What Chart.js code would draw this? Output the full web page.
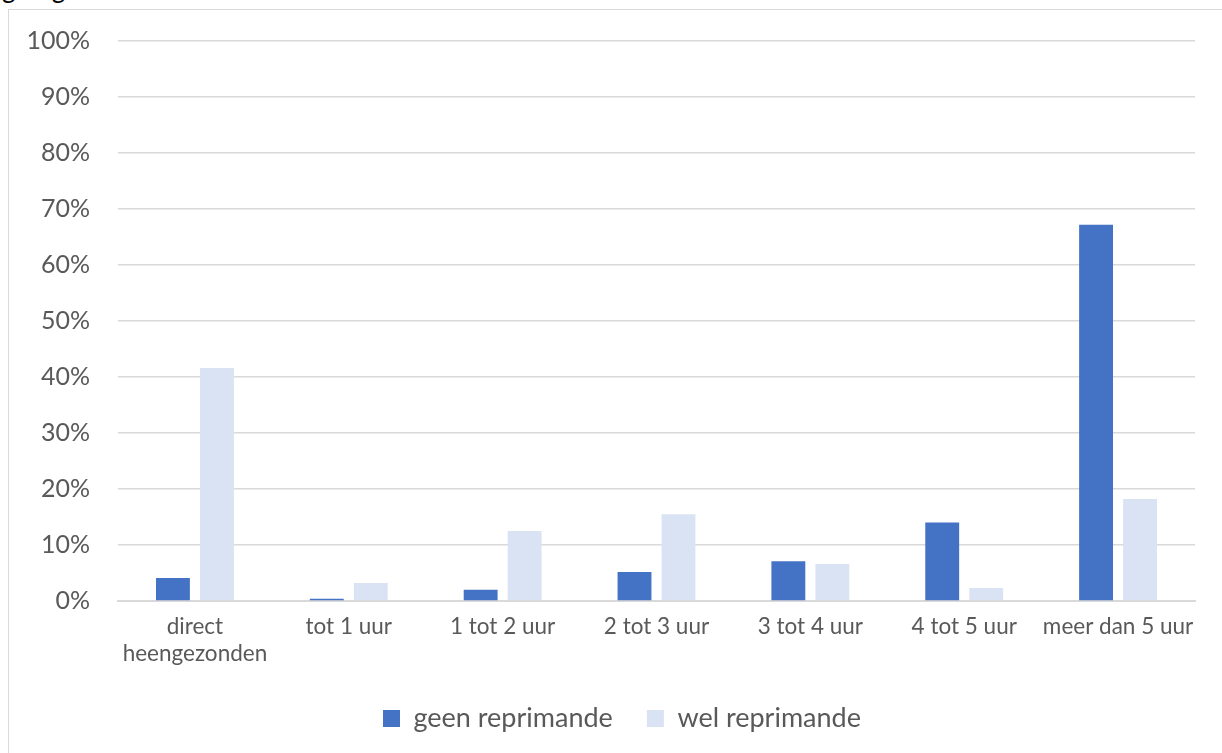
<!DOCTYPE html>
<html>
<head>
<meta charset="utf-8">
<script src="https://cdn.jsdelivr.net/npm/chart.js@4"></script>
<style>
  html, body { margin: 0; padding: 0; background: #fff; overflow: hidden; }
  body { width: 1222px; height: 753px; position: relative; font-family: Lato, "Open Sans", sans-serif; }
  #kop { position: absolute; left: 2px; top: -28px; font-size: 26px; color: #000; white-space: nowrap; }
  #kader { position: absolute; left: 8px; top: 9px; width: 1240px; height: 770px; border: 1px solid #d9d9d9; background: #fff; }
  #wrap { position: absolute; left: 9px; top: 10px; width: 1213px; height: 743px; }
</style>
</head>
<body>
<div id="kop">geregistreerd.</div>
<div id="kader"></div>
<div id="wrap"><canvas id="reprimandeChart"></canvas></div>
<script>
  // Gegevens
  const categorieen = [
    ['direct', 'heengezonden'],
    'tot 1 uur',
    '1 tot 2 uur',
    '2 tot 3 uur',
    '3 tot 4 uur',
    '4 tot 5 uur',
    'meer dan 5 uur'
  ];
  const reeksNamen = ['geen reprimande', 'wel reprimande'];
  const geenReprimande = [4.1, 0.4, 2.0, 5.2, 7.1, 14.0, 67.2];
  const welReprimande = [41.6, 3.2, 12.5, 15.5, 6.6, 2.3, 18.2];

  const tekstKleur = '#595959';
  const rasterKleur = '#d9d9d9';
  const familie = 'Lato, "Open Sans", sans-serif';

  // legenda iets naar rechts, zoals in het origineel
  const legendaVerschuiving = {
    id: 'legendaVerschuiving',
    afterLayout(chart) {
      if (!chart.legend) return;
      chart.legend.left += 20;
      chart.legend.right += 20;
    }
  };

  const ctx = document.getElementById('reprimandeChart').getContext('2d');
  const reprimandeChart = new Chart(ctx, {
    type: 'bar',
    data: {
      labels: categorieen,
      datasets: [
        {
          label: reeksNamen[0],
          data: geenReprimande,
          backgroundColor: '#4472c4',
          categoryPercentage: 0.572,
          barPercentage: 0.77
        },
        {
          label: reeksNamen[1],
          data: welReprimande,
          backgroundColor: '#dae3f3',
          categoryPercentage: 0.572,
          barPercentage: 0.77
        }
      ]
    },
    options: {
      responsive: true,
      maintainAspectRatio: false,
      animation: false,
      layout: { padding: { left: 0, right: 27, top: 31, bottom: 11 } },
      scales: {
        x: {
          grid: { display: false, drawTicks: false },
          border: { color: rasterKleur, width: 2 },
          ticks: { color: tekstKleur, font: { family: familie, size: 22.5 }, padding: 12, maxRotation: 0, autoSkip: false },
          afterFit: (schaal) => { schaal.height = 70; }
        },
        y: {
          min: 0,
          max: 100,
          grid: { color: rasterKleur, lineWidth: 1.5, drawTicks: false },
          border: { display: false },
          ticks: {
            stepSize: 10,
            color: tekstKleur,
            font: { family: familie, size: 25 },
            padding: 28,
            callback: (waarde) => waarde + '%'
          },
          afterFit: (schaal) => {
            schaal.width = 109;
            schaal.paddingTop = 0;
            schaal.paddingBottom = 0;
          }
        }
      },
      plugins: {
        legend: {
          position: 'bottom',
          labels: {
            color: tekstKleur,
            font: { family: familie, size: 27 },
            boxWidth: 17,
            boxHeight: 17,
            padding: 34,
            useBorderRadius: false
          }
        },
        tooltip: { enabled: false }
      }
    },
    plugins: [legendaVerschuiving]
  });
</script>
</body>
</html>
